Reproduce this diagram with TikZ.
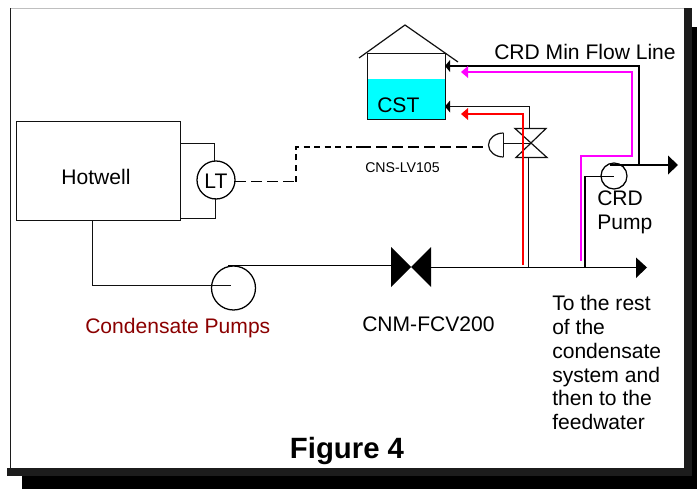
\documentclass[tikz,border=0pt]{standalone}
\usepackage{fontspec}
\setmainfont{Liberation Sans}
\usetikzlibrary{calc}
\definecolor{dgray}{HTML}{1C1C1C}
\definecolor{linegray}{HTML}{111111}
\definecolor{tankcyan}{HTML}{00FFFF}
\definecolor{pumpred}{HTML}{8B0000}
\definecolor{magline}{HTML}{FF00FF}
\definecolor{redl}{HTML}{FF0000}
\tikzset{
  x=0.75pt,y=-0.75pt,
  pipe/.style={draw=black,line width=1pt},
  thinpipe/.style={draw=linegray,line width=1pt},
  heavypipe/.style={draw=black,line width=1.5pt},
  signal/.style={draw=black,line width=1pt,dash pattern=on 8pt off 4pt},
  signalb/.style={draw=black,line width=1.5pt,dash pattern=on 4.5pt off 3.4pt},
  signalc/.style={draw=black,line width=1.5pt,dash pattern=on 8pt off 4pt},
  redline/.style={draw=redl,line width=1.8pt},
  magentaline/.style={draw=magline,line width=1.8pt},
  lbl/.style={inner sep=0pt,anchor=base west,font=\fontsize{15.8}{18}\selectfont},
  pumpcircle/.style={circle,draw=black,line width=0.95pt,fill=none,inner sep=0pt},
}
\begin{document}
\begin{tikzpicture}
\useasboundingbox (0,0) rectangle (697,489);
% frame and shadow
\fill[black] (22,27) rectangle (697,489);
\fill[white] (0,476) rectangle (22,489);
\fill[dgray] (7,468) rectangle (692,476);
\fill[dgray] (684,8) rectangle (692,476);
\fill[white] (0,0) rectangle (684,468);
\fill[dgray] (7,468) rectangle (684,476);
\draw[draw=black!25,line width=0.75pt] (10,8.5) -- (684,8.5);
\draw[draw=dgray,line width=0.95pt] (10.5,8) -- (10.5,468);
% hotwell
\node[draw=linegray,line width=1pt,inner sep=0pt,
  minimum width=123pt,minimum height=74.25pt,anchor=north west] (hot) at (15.7,121) {};
\node[inner sep=0pt,font=\fontsize{15.8}{18}\selectfont] at (96,177) {Hotwell};
% LT
\node[pumpcircle,minimum size=28.5pt] (lt) at (216,180) {};
\node[inner sep=0pt,font=\fontsize{15.8}{18}\selectfont] at (216,181) {LT};
\coordinate (ltA) at (180,143.5);
\coordinate (ltAa) at (214.5,143.5);
\coordinate (ltAb) at (214.5,162);
\coordinate (ltB) at (180,218.5);
\coordinate (ltBa) at (215.5,218.5);
\coordinate (ltBb) at (215.5,198);
\draw[thinpipe] (ltA) -- (ltAa) -- (ltAb);
\draw[thinpipe] (ltB) -- (ltBa) -- (ltBb);
% pump
\node[pumpcircle,minimum size=33pt] (cp) at (233.5,288) {};
\coordinate (hotOut) at (92.5,220);
\coordinate (hotCorner) at (92.5,285.5);
\coordinate (cpIn) at (231,285.5);
\draw[thinpipe] (hotOut) -- (hotCorner) -- (cpIn);
% main valve
\coordinate (mv) at (411,267);
\fill[black] (391,247) -- (411,267) -- (391,287) -- cycle;
\fill[black] (431,247) -- (411,267) -- (431,287) -- cycle;
% main line
\coordinate (cpOut) at (228,265.5);
\coordinate (mainEnd) at (640,267.5);
\draw[pipe] (cpOut) -- (395,265.5);
\draw[pipe] (428,267.5) -- (mainEnd);
\fill[black] (636,257.5) -- (647,267.5) -- (636,278) -- cycle;
% level valve
\coordinate (lv) at (531,143.5);
\draw[line width=0.9pt,draw=linegray,fill=white] (515,128.5) -- (546,128.5) -- (516,157.5) -- (547,157.5) -- cycle;
\coordinate (lvTop) at (529.5,128);
\coordinate (lvTurn) at (529.5,106.5);
\coordinate (cstInB) at (450,106.5);
\coordinate (lvBot) at (528.5,157);
\coordinate (mainTee) at (528.5,267);
\draw[thinpipe] (lvTop) -- (lvTurn) -- (cstInB);
\fill[black] (445,106.5) -- (450,100.5) -- (450,112.5) -- cycle;
\draw[thinpipe] (lvBot) -- (mainTee);
% actuator
\draw[line width=0.9pt,draw=linegray] (503.5,133) arc[start angle=90,end angle=270,x radius=15,y radius=-12];
\draw[line width=0.9pt,draw=linegray] (503.5,133) -- (503.5,157);
\coordinate (actStem) at (503.5,143.5);
\draw[thinpipe] (actStem) -- (lv);
% signal
\coordinate (ltOut) at (235,181.5);
\coordinate (s1) at (296,181.5);
\coordinate (s2) at (296,147);
\coordinate (actIn) at (488,147);
\draw[signal] (ltOut) -- (s1);
\draw[signalb] (s1) -- (s2) -- (360,147);
\draw[signalc] (360,147) -- (actIn);
% tank
\fill[tankcyan] (367,79) rectangle (445,119);
\node[draw=linegray,line width=1pt,minimum width=58.5pt,minimum height=49.5pt,inner sep=0pt,anchor=north west] (cst) at (367,53) {};
\draw[line width=0.9pt,draw=linegray] (359,58) -- (405,25) -- (458,62);
\node[lbl] at (377,112) {CST};
% CRD pump
\node[pumpcircle,minimum size=19.5pt] (crd) at (614,176) {};
\coordinate (crdTee) at (585,267);
\coordinate (crdCorner) at (585,176.5);
\coordinate (crdIn) at (614,176.5);
\draw[pipe] (crdTee) -- (crdCorner) -- (crdIn);
\coordinate (crdOut) at (610,165);
\coordinate (crdEnd) at (670,165);
\draw[heavypipe] (crdOut) -- (crdEnd);
\fill[black] (668,155.5) -- (678,165) -- (668,174.5) -- cycle;
% min flow line
\coordinate (mfTee) at (639,165);
\coordinate (mfCorner) at (639,66);
\coordinate (cstInA) at (450,66);
\draw[heavypipe] (mfTee) -- (mfCorner) -- (cstInA);
\fill[black] (445,66) -- (450,60) -- (450,72) -- cycle;
% red
\coordinate (r1) at (523,265);
\coordinate (r2) at (523,114);
\coordinate (r3) at (467,114);
\draw[redline] (r1) -- (r2) -- (r3);
\fill[redl] (461,114) -- (468,108) -- (468,120) -- cycle;
% magenta
\coordinate (m1) at (581,261);
\coordinate (m2) at (581,156);
\coordinate (m3) at (632,156);
\coordinate (m4) at (632,72);
\coordinate (m5) at (467,72);
\draw[magentaline] (m1) -- (m2) -- (m3) -- (m4) -- (m5);
\fill[magline] (461,72) -- (468,66) -- (468,78) -- cycle;
% labels
\node[lbl] at (494,60) {CRD Min Flow Line};
\node[lbl,font=\fontsize{10.6}{12}\selectfont] at (365,172) {CNS-LV105};
\node[lbl] at (597,205) {CRD};
\node[lbl] at (597,229) {Pump};
\node[lbl,text=pumpred] at (85,333) {Condensate Pumps};
\node[lbl] at (362,331) {CNM-FCV200};
\node[lbl] at (552,310) {To the rest};
\node[lbl] at (552,334) {of the};
\node[lbl] at (552,358) {condensate};
\node[lbl] at (552,382) {system and};
\node[lbl] at (552,405) {then to the};
\node[lbl] at (552,429) {feedwater};
\node[inner sep=0pt,font=\fontsize{22}{25}\selectfont\bfseries] at (347,451) {Figure 4};
\end{tikzpicture}
\end{document}
